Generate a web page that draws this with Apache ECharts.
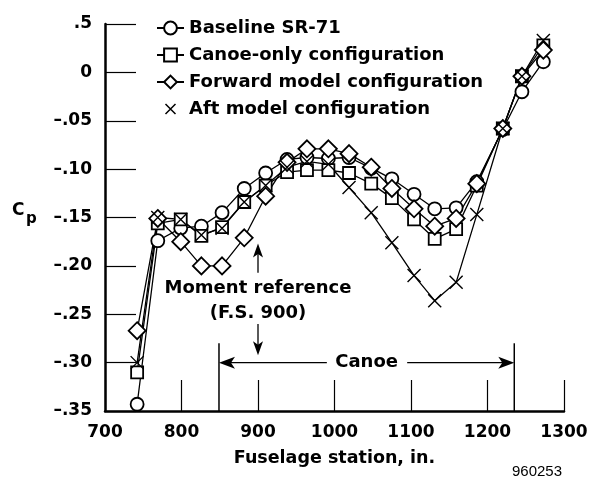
<!DOCTYPE html>
<html><head><meta charset="utf-8">
<script src="https://cdn.jsdelivr.net/npm/echarts@6/dist/echarts.min.js"></script>
<style>html,body{margin:0;padding:0;background:#fff}#c{width:592px;height:478px}</style>
</head><body><div id="c"></div>
<script>
// Fuselage stations (in.)
const stations = [742,769,799,826,853,882,910,938,964,992,1019,1048,1075,1104,1131,1159,1186,1220,1245,1273];
// Cp values
const baseline  = [-0.343,-0.174,-0.161,-0.159,-0.145,-0.120,-0.104,-0.090,-0.088,-0.089,-0.088,-0.099,-0.110,-0.126,-0.141,-0.140,-0.113,-0.059,-0.020,0.011];
const canoeOnly = [-0.310,-0.156,-0.152,-0.169,-0.160,-0.134,-0.117,-0.103,-0.101,-0.101,-0.104,-0.115,-0.130,-0.152,-0.172,-0.162,-0.117,-0.058,-0.004,0.028];
const forward   = [-0.267,-0.151,-0.175,-0.200,-0.200,-0.171,-0.128,-0.093,-0.079,-0.079,-0.084,-0.098,-0.120,-0.141,-0.159,-0.151,-0.115,-0.058,-0.004,0.023];
const aft       = [-0.300,-0.150,-0.152,-0.168,-0.161,-0.134,-0.117,-0.098,-0.092,-0.095,-0.119,-0.145,-0.176,-0.210,-0.236,-0.217,-0.147,-0.058,-0.004,0.033];
const seriesNames = ['Baseline SR-71','Canoe-only configuration','Forward model configuration','Aft model configuration'];
const yTickLabels = ['\u2013.35','\u2013.30','\u2013.25','\u2013.20','\u2013.15','\u2013.10','\u2013.05','0','.5'];
const xTickLabels = ['700','800','900','1000','1100','1200','1300'];

const FONT = 'DejaVu Sans';
const xPath = 'path://M0,0L10,10M10,0L0,10';
const xLegendPath = 'path://M-3,-3L-2.99,-2.99M13,13L13.01,13.01M0,0L10,10M10,0L0,10';

const chart = echarts.init(document.getElementById('c'), null, {renderer:'canvas'});
function mk(name, vals, symbol, size){
  return {
    type:'line', name, data: stations.map((x,i)=>[x, vals[i]]),
    symbol, symbolSize:size, showAllSymbol:true,
    lineStyle:{color:'#000', width:1.3},
    itemStyle:{color:'#fff', borderColor:'#000', borderWidth:1.8},
    emphasis:{disabled:true}, animation:false
  };
}
chart.setOption({
  animation:false,
  grid:{left:105, right:28, top:24, bottom:67, containLabel:false},
  xAxis:{
    type:'value', min:700, max:1300, interval:100,
    name:'Fuselage station, in.', nameLocation:'middle', nameGap:38,
    nameTextStyle:{fontFamily:FONT, fontWeight:'bold', fontSize:17.5, color:'#000'},
    axisLine:{onZero:false, lineStyle:{color:'#000', width:2.5}},
    axisTick:{inside:true, length:31, lineStyle:{color:'#000', width:1.2}},
    axisLabel:{margin:13, fontFamily:FONT, fontWeight:'bold', fontSize:17, color:'#000',
      formatter:(v)=>xTickLabels[Math.round((v-700)/100)]},
    splitLine:{show:false}
  },
  yAxis:{
    type:'value', min:-0.35, max:0.05, interval:0.05,
    axisLine:{show:true, onZero:false, lineStyle:{color:'#000', width:2.5}},
    axisTick:{show:true, inside:true, length:31, lineStyle:{color:'#000', width:1.2}},
    axisLabel:{margin:13, fontFamily:FONT, fontWeight:'bold', fontSize:17, color:'#000',
      formatter:(v)=>yTickLabels[Math.round((v+0.35)/0.05)]},
    splitLine:{show:false}
  },
  legend:{
    orient:'vertical', left:151, top:14, itemWidth:27, itemHeight:16, itemGap:9,
    selectedMode:false,
    textStyle:{fontFamily:FONT, fontWeight:'bold', fontSize:18, color:'#000', lineHeight:18},
    data:[seriesNames[0], seriesNames[1], seriesNames[2],
      {name:seriesNames[3], icon:xLegendPath, itemStyle:{color:'#fff', borderColor:'#000', borderWidth:1.5}}]
  },
  series:[
    mk(seriesNames[0], baseline, 'circle', 13),
    mk(seriesNames[1], canoeOnly, 'rect', 12),
    mk(seriesNames[2], forward, 'diamond', 17),
    Object.assign(mk(seriesNames[3], aft, xPath, 13), {itemStyle:{color:'#fff', borderColor:'#000', borderWidth:1.4}})
  ]
});

const P = (x,y)=>chart.convertToPixel({gridIndex:0},[x,y]);
function arrowHead(tip, dir, len, hw){ // dir: unit vector pointing to the tip
  const [tx,ty]=tip, [dx,dy]=dir, nx=-dy, ny=dx;
  const bx=tx-dx*len, by=ty-dy*len;
  return {type:'polygon', shape:{points:[[tx,ty],[bx+nx*hw,by+ny*hw],[tx-dx*len*0.75,ty-dy*len*0.75],[bx-nx*hw,by-ny*hw]]}, style:{fill:'#000'}};
}
function line(a,b,w){ return {type:'line', shape:{x1:a[0],y1:a[1],x2:b[0],y2:b[1]}, style:{stroke:'#000', lineWidth:w||1.3}}; }
function text(t,p,size,weight,align,vAlign,font){
  return {type:'text', x:p[0], y:p[1], style:{text:t, fill:'#000', font:(weight||'bold')+' '+size+'px "'+(font||FONT)+'"', textAlign:align||'center', textVerticalAlign:vAlign||'middle'}};
}
const g=[];
// Canoe extent
const cL0=P(849,-0.28), cL1=P(849,-0.35), cR0=P(1235,-0.28), cR1=P(1235,-0.35);
g.push(line(cL0,cL1,1.5), line(cR0,cR1,1.5));
const ay=P(0,-0.30)[1];
const aL=[cL0[0],ay], aR=[cR0[0],ay];
g.push(line([P(990,0)[0],ay],[aL[0]+10,ay]), arrowHead(aL,[-1,0],16,6));
g.push(line([P(1095,0)[0],ay],[aR[0]-10,ay]), arrowHead(aR,[1,0],16,6));
g.push(text('Canoe', [P(1042,-0.30)[0], ay], 18));
// Moment reference
const mx=P(900,0)[0];
const upTip=[mx,P(0,-0.177)[1]], upBase=[mx,P(0,-0.207)[1]];
g.push(line(upBase,[mx,upTip[1]+8]), arrowHead(upTip,[0,-1],14,5));
g.push(text('Moment reference',[mx,P(0,-0.2236)[1]],18));
g.push(text('(F.S. 900)',[mx,P(0,-0.2495)[1]],18));
const dnTop=[mx,P(0,-0.260)[1]], dnTip=[mx,P(0,-0.2925)[1]];
g.push(line(dnTop,[mx,dnTip[1]-8]), arrowHead(dnTip,[0,1],14,5));
// Cp label
g.push(text('C',[12,211],17,'bold','left'));
g.push(text('p',[26,219],15,'bold','left'));
// figure number
g.push(text('960253',[537,472],15,'normal','center','middle','Liberation Sans'));
chart.setOption({graphic:{elements:g}});
</script></body></html>
